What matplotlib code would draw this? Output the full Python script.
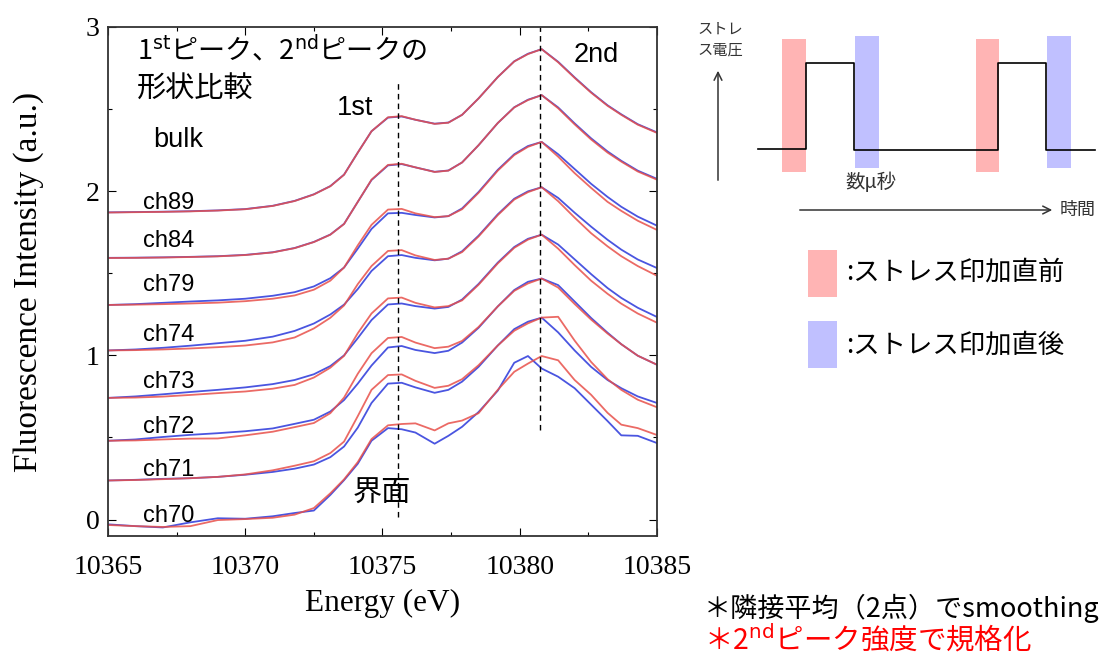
import matplotlib
matplotlib.use('Agg')
import matplotlib.pyplot as plt
from matplotlib.ticker import MultipleLocator

plt.rcParams['font.family'] = ['Noto Sans CJK JP', 'DejaVu Sans']

# energy grid (eV)
energy = [10365.0, 10366.0, 10367.0, 10368.0, 10369.0, 10370.0, 10371.0, 10371.8,
          10372.5, 10373.1, 10373.6, 10374.1, 10374.6, 10375.2, 10375.7, 10376.2,
          10376.9, 10377.4, 10377.9, 10378.5, 10379.2, 10379.8, 10380.3, 10380.8,
          10381.4, 10382.0, 10382.6, 10383.2, 10383.7, 10384.3, 10385.0]

channels = ['ch89', 'ch84', 'ch79', 'ch74', 'ch73', 'ch72', 'ch71', 'ch70']
offsets = [1.865, 1.585, 1.30, 1.024, 0.735, 0.468, 0.23, 0.0]

# normalized spectra (2nd peak = 1), red = before stress, blue = after stress
ch89_before = [0.005, 0.007, 0.009, 0.012, 0.017, 0.025, 0.045, 0.075, 0.115, 0.165, 0.235,
               0.37, 0.50, 0.585, 0.592, 0.57, 0.545, 0.552, 0.60, 0.70, 0.83, 0.925, 0.97,
               1.0, 0.92, 0.825, 0.735, 0.655, 0.60, 0.54, 0.49]
ch89_after = [0.006, 0.008, 0.010, 0.013, 0.018, 0.026, 0.046, 0.076, 0.116, 0.166, 0.236,
              0.37, 0.50, 0.583, 0.590, 0.57, 0.546, 0.553, 0.60, 0.70, 0.83, 0.926, 0.972,
              1.0, 0.923, 0.828, 0.738, 0.658, 0.603, 0.543, 0.493]
ch84_before = [0.008, 0.009, 0.011, 0.014, 0.018, 0.026, 0.042, 0.068, 0.105, 0.15, 0.215,
               0.35, 0.485, 0.575, 0.582, 0.56, 0.532, 0.54, 0.59, 0.695, 0.83, 0.925, 0.97,
               1.0, 0.92, 0.822, 0.73, 0.65, 0.595, 0.535, 0.485]
ch84_after = [0.009, 0.010, 0.012, 0.015, 0.019, 0.027, 0.043, 0.069, 0.106, 0.151, 0.216,
              0.35, 0.483, 0.572, 0.580, 0.56, 0.533, 0.541, 0.59, 0.695, 0.83, 0.926, 0.972,
              1.0, 0.925, 0.828, 0.737, 0.657, 0.60, 0.54, 0.49]
ch79_before = [0.007, 0.009, 0.012, 0.016, 0.021, 0.03, 0.045, 0.065, 0.10, 0.155, 0.235,
               0.37, 0.495, 0.588, 0.592, 0.565, 0.542, 0.548, 0.59, 0.69, 0.825, 0.92, 0.97,
               1.0, 0.91, 0.81, 0.72, 0.635, 0.58, 0.52, 0.464]
ch79_after = [0.007, 0.012, 0.02, 0.028, 0.035, 0.045, 0.063, 0.085, 0.12, 0.17, 0.235,
              0.35, 0.47, 0.565, 0.568, 0.555, 0.54, 0.548, 0.595, 0.695, 0.83, 0.925, 0.975,
              1.0, 0.925, 0.835, 0.745, 0.665, 0.605, 0.545, 0.49]
ch74_before = [0.006, 0.008, 0.012, 0.018, 0.026, 0.036, 0.055, 0.085, 0.14, 0.205, 0.28,
               0.41, 0.52, 0.612, 0.617, 0.585, 0.557, 0.565, 0.605, 0.70, 0.83, 0.925, 0.97,
               1.0, 0.915, 0.815, 0.72, 0.64, 0.58, 0.52, 0.461]
ch74_after = [0.006, 0.012, 0.022, 0.035, 0.05, 0.065, 0.09, 0.125, 0.17, 0.225, 0.285,
              0.38, 0.49, 0.58, 0.587, 0.57, 0.555, 0.565, 0.61, 0.705, 0.835, 0.93, 0.975,
              1.0, 0.935, 0.845, 0.76, 0.68, 0.62, 0.56, 0.508]
ch73_before = [0.006, 0.008, 0.014, 0.024, 0.035, 0.045, 0.062, 0.085, 0.13, 0.19, 0.262,
               0.40, 0.52, 0.612, 0.617, 0.585, 0.557, 0.565, 0.60, 0.695, 0.825, 0.92, 0.97,
               1.0, 0.915, 0.815, 0.72, 0.64, 0.58, 0.52, 0.464]
ch73_after = [0.006, 0.015, 0.028, 0.042, 0.055, 0.07, 0.09, 0.115, 0.15, 0.20, 0.265,
              0.37, 0.48, 0.575, 0.581, 0.565, 0.55, 0.56, 0.605, 0.70, 0.83, 0.925, 0.975,
              1.0, 0.94, 0.85, 0.76, 0.675, 0.615, 0.555, 0.499]
ch72_before = [0.012, 0.014, 0.02, 0.025, 0.026, 0.045, 0.067, 0.095, 0.12, 0.18, 0.275,
               0.42, 0.545, 0.638, 0.644, 0.61, 0.576, 0.585, 0.62, 0.705, 0.83, 0.925, 0.97,
               1.0, 0.945, 0.845, 0.75, 0.665, 0.60, 0.53, 0.475]
ch72_after = [0.012, 0.02, 0.035, 0.048, 0.058, 0.07, 0.087, 0.115, 0.14, 0.19, 0.26,
              0.36, 0.47, 0.58, 0.589, 0.565, 0.546, 0.56, 0.61, 0.70, 0.83, 0.93, 0.98,
              1.0, 0.96, 0.86, 0.76, 0.67, 0.60, 0.53, 0.475]
ch71_before = [0.008, 0.011, 0.016, 0.022, 0.03, 0.045, 0.07, 0.098, 0.125, 0.175, 0.245,
               0.40, 0.56, 0.65, 0.654, 0.615, 0.572, 0.585, 0.625, 0.71, 0.83, 0.92, 0.965,
               1.0, 1.005, 0.86, 0.73, 0.625, 0.56, 0.50, 0.454]
ch71_after = [0.008, 0.012, 0.018, 0.022, 0.03, 0.043, 0.06, 0.08, 0.105, 0.15, 0.215,
              0.33, 0.48, 0.598, 0.603, 0.575, 0.542, 0.56, 0.61, 0.70, 0.83, 0.93, 0.975,
              1.0, 0.91, 0.80, 0.70, 0.62, 0.57, 0.52, 0.48]
ch70_before = [-0.033, -0.04, -0.045, -0.04, -0.003, 0.003, 0.011, 0.03, 0.07, 0.16, 0.245,
               0.35, 0.49, 0.574, 0.582, 0.586, 0.543, 0.586, 0.603, 0.648, 0.79, 0.90, 0.95,
               0.996, 0.97, 0.85, 0.76, 0.65, 0.578, 0.557, 0.515]
ch70_after = [-0.029, -0.04, -0.048, -0.017, 0.008, 0.005, 0.02, 0.04, 0.055, 0.15, 0.24,
              0.34, 0.48, 0.557, 0.55, 0.53, 0.462, 0.51, 0.565, 0.655, 0.785, 0.955, 0.996,
              0.92, 0.87, 0.80, 0.70, 0.60, 0.513, 0.51, 0.466]

before = [ch89_before, ch84_before, ch79_before, ch74_before,
          ch73_before, ch72_before, ch71_before, ch70_before]
after = [ch89_after, ch84_after, ch79_after, ch74_after,
         ch73_after, ch72_after, ch71_after, ch70_after]
label_y = [1.925, 1.694, 1.43, 1.126, 0.835, 0.564, 0.299, 0.02]

peak1 = 10375.55
peak2 = 10380.74

red = '#e8504a'
blue = '#4a55e0'
latin = ['Liberation Sans', 'DejaVu Sans']
serif = ['Liberation Serif', 'DejaVu Serif']
cjk = ['Noto Sans CJK JP', 'DejaVu Sans']

fig = plt.figure(figsize=(11.01, 6.55), dpi=100)
ax = fig.add_axes([0.0981, 0.1817, 0.4986, 0.7771])

for name, off, b, a, ly in zip(channels, offsets, before, after, label_y):
    ax.plot(energy, [v + off for v in a], color=blue, lw=1.3)
    ax.plot(energy, [v + off for v in b], color=red, lw=1.3, alpha=0.85)
    ax.text(10367.2, ly, name, family=latin, fontsize=17, ha='center', va='center')

ax.plot([peak1, peak1], [0.018, 2.656], color='black', lw=1, ls=(0, (4, 3)))
ax.plot([peak2, peak2], [0.548, 3.0], color='black', lw=1, ls=(0, (4, 3)))

ax.text(10366.05, 2.859, r'1$^{\mathrm{st}}$ピーク、2$^{\mathrm{nd}}$ピークの',
        family=cjk, fontsize=19.5, ha='left', va='center')
ax.text(10366.05, 2.615, '形状比較', family=cjk, fontsize=21, ha='left', va='center')
ax.text(10374.0, 2.505, '1st', family=latin, fontsize=19.5, ha='center', va='center')
ax.text(10382.78, 2.83, '2nd', family=latin, fontsize=19.5, ha='center', va='center')
ax.text(10367.54, 2.31, 'bulk', family=latin, fontsize=19.5, ha='center', va='center')
ax.text(10374.98, 0.158, '界面', family=cjk, fontsize=21, ha='center', va='center')

ax.set_xlim(10365, 10385)
ax.set_ylim(-0.1, 3.0)
ax.xaxis.set_major_locator(MultipleLocator(5))
ax.xaxis.set_minor_locator(MultipleLocator(2.5))
ax.yaxis.set_major_locator(MultipleLocator(1))
ax.yaxis.set_minor_locator(MultipleLocator(0.5))
ax.tick_params(which='both', direction='in', top=True, right=True, width=0.8)
ax.tick_params(which='major', length=6, labelsize=20)
ax.tick_params(axis='x', which='major', pad=14)
ax.tick_params(axis='y', which='major', pad=6)
ax.tick_params(which='minor', length=3)
for lab in ax.get_xticklabels() + ax.get_yticklabels():
    lab.set_family(serif)
for s in ax.spines.values():
    s.set_linewidth(1.3)
    s.set_color('#333333')
ax.set_xlabel('Energy (eV)', family=serif, fontsize=22.5, labelpad=6)
ax.set_ylabel('Fluorescence Intensity (a.u.)', family=serif, fontsize=24, labelpad=30)

# schematic of stress pulses (pixel coordinates)
ov = fig.add_axes([0, 0, 1, 1])
ov.set_xlim(0, 1101)
ov.set_ylim(655, 0)
ov.axis('off')

pink = '#ffb4b4'
lav = '#c0c0ff'
for x0, x1 in [(782, 806), (976, 999)]:
    ov.fill_between([x0, x1], 39, 172, color=pink, lw=0)
for x0, x1 in [(855, 879), (1047, 1071)]:
    ov.fill_between([x0, x1], 36, 168, color=lav, lw=0)
ov.plot([758, 806, 806, 854, 854, 998, 998, 1046, 1046, 1095],
        [149, 149, 63, 63, 150, 150, 63, 63, 150, 150], color='black', lw=1.2)

ov.annotate('', xy=(718, 68), xytext=(718, 183),
            arrowprops=dict(arrowstyle='->', color='#333333', lw=1.1, mutation_scale=14))
ov.annotate('', xy=(1055, 210), xytext=(797, 210),
            arrowprops=dict(arrowstyle='->', color='#333333', lw=1.1, mutation_scale=14))
ov.text(697, 29, 'ストレ', family=cjk, fontsize=11, color='#333333', ha='left', va='center')
ov.text(697, 50, 'ス電圧', family=cjk, fontsize=11, color='#333333', ha='left', va='center')
ov.text(871, 182, '数μ秒', family=cjk, fontsize=14, color='#333333', ha='center', va='center')
ov.text(1060, 210, '時間', family=cjk, fontsize=13, color='#333333', ha='left', va='center')

ov.fill_between([808, 837], 250, 297, color=pink, lw=0)
ov.fill_between([808, 837], 321, 368, color=lav, lw=0)
ov.text(846, 272, ':ストレス印加直前', family=cjk, fontsize=19, ha='left', va='center')
ov.text(846, 345, ':ストレス印加直後', family=cjk, fontsize=19, ha='left', va='center')

ov.text(704, 608, '＊隣接平均（2点）でsmoothing', family=cjk, fontsize=19.5,
        ha='left', va='center')
ov.text(704, 640, r'＊2$^{\mathrm{nd}}$ピーク強度で規格化', family=cjk, fontsize=20.5,
        color='#ff0000', ha='left', va='center')

fig.savefig('out.png', dpi=100)
